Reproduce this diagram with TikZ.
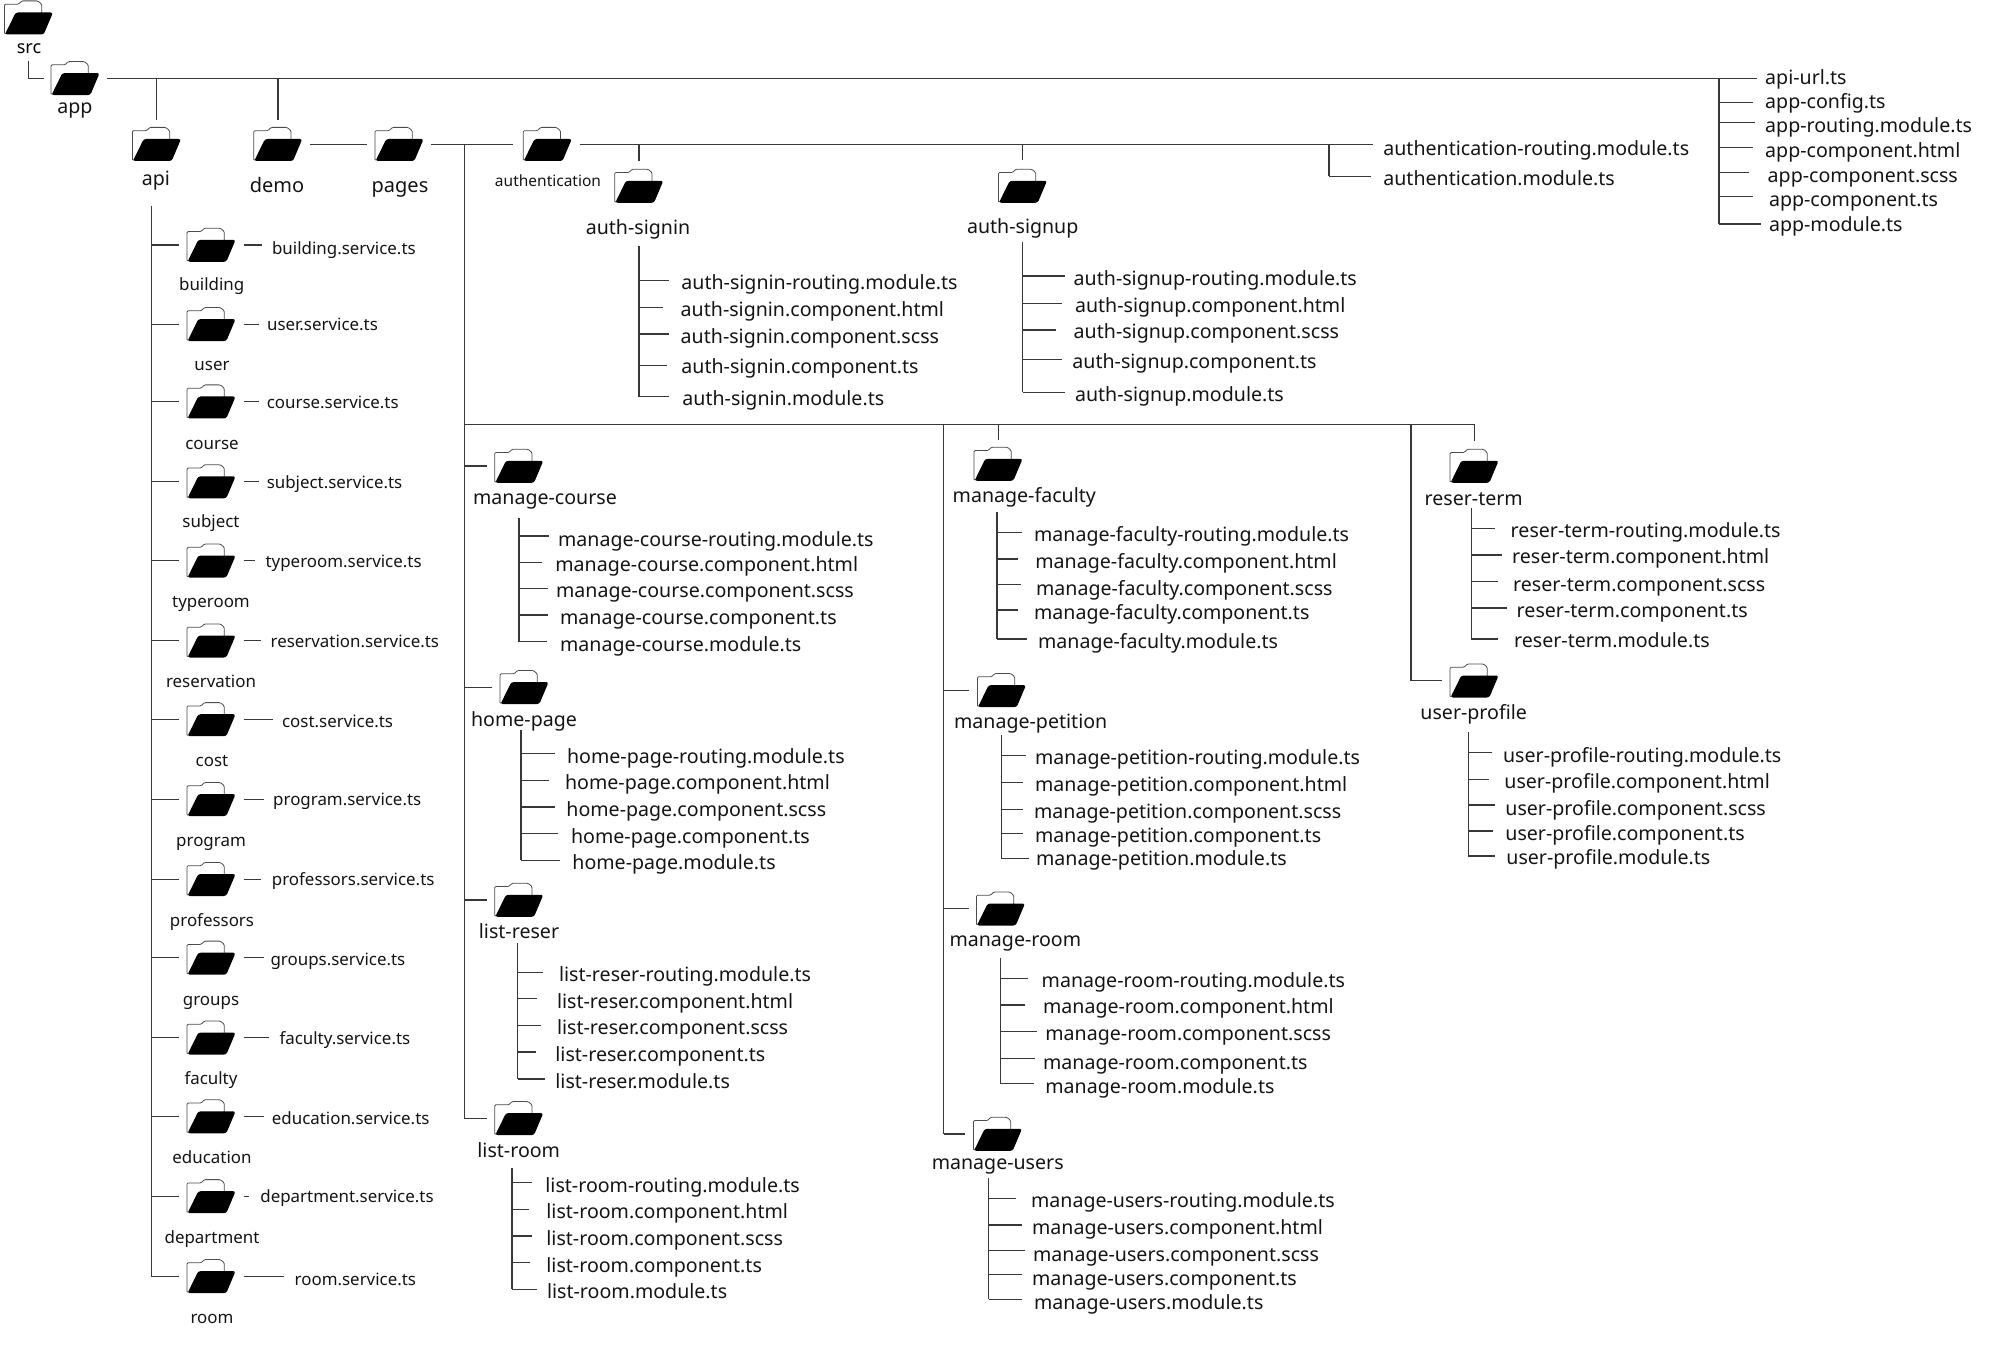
\documentclass[tikz,border=0pt]{standalone}
\usepackage{fontspec}
\setmainfont{Noto Sans}
\tikzset{
  conn/.style={draw=black!78,line width=0.58pt},
  fn/.style={font=\fontsize{9.8pt}{11pt}\selectfont,text=black!92},
  fs/.style={font=\fontsize{8.45pt}{10pt}\selectfont,text=black!92},
  fa/.style={font=\fontsize{7.75pt}{9pt}\selectfont,text=black!92},
  fb/.style={font=\fontsize{10pt}{12pt}\selectfont,text=black!92},
  filelabel/.style={anchor=mid west,inner sep=0pt,yshift=-0.6pt},
  foldlabel/.style={anchor=mid,inner sep=0pt,yshift=-0.6pt},
  foldbox/.style={rectangle,inner sep=0pt,minimum width=25pt,minimum height=18pt,
    path picture={
      \begin{scope}[shift={(path picture bounding box.center)}]
        \draw[black!70,line width=0.4pt,fill=white,rounded corners=0.6pt]
          (-24.3,16.5)--(-24.3,-13.5)--(-10,-13.5)--(-7,-16.8)--(9,-16.8)--(13,-13.5)--(13,-4)--(0,0)--cycle;
        \fill[black,rounded corners=1.2pt]
          (-13,-5.2)--(24.3,-5.2)--(15,16.8)--(-23.8,16.8)--cycle;
      \end{scope}}},
}
% folder: name, x, y, label, label x, label y, label style
\newcommand{\foldr}[7]{%
  \node[foldbox] (#1) at (#2,#3) {};
  \node[foldlabel,#7] (#1-l) at (#5,#6) {#4};}
% file: name, x, text y, text, trunk, branch y, branch end x, style
\newcommand{\filen}[8]{%
  \node[filelabel,#8] (#1) at (#2,#3) {#4};
  \draw[conn,shorten >=(#2-#7)*0.5pt] (#5 |- 0,#6) -- (#1.west |- 0,#6);}
% service file beside an api folder: name, x, text y, text, folder, branch y, end x
\newcommand{\svc}[7]{%
  \node[filelabel,fs] (#1) at (#2,#3) {#4};
  \draw[conn,shorten <=7*0.5pt,shorten >=(#2-#7)*0.5pt] (#5.east |- 0,#6) -- (#1.west |- 0,#6);}
% trunk: name, x, y start, y end
\newcommand{\trunkl}[4]{%
  \coordinate (#1) at (#2,#3);
  \coordinate (#1e) at (#2,#4);
  \draw[conn] (#1) -- (#1e);}
\newcommand{\tofold}[3]{%
  \draw[conn,shorten >=#3*0.5pt] (#1 |- #2.west) -- (#2.west);}
\begin{document}
\begin{tikzpicture}[x=0.5pt,y=-0.5pt]
\useasboundingbox (0,0) rectangle (1989,1347);
% ---- top ----
\foldr{src}{28.7}{17.7}{src}{29}{47}{font=\fontsize{9pt}{11pt}\selectfont}
\foldr{app}{75.3}{78.3}{app}{75}{107}{fn}
\coordinate (srcl) at (28.3,61.3);
\draw[conn,shorten >=6.3*0.5pt] (srcl) |- (app.west);
\foldr{api}{156.7}{144.2}{api}{156}{179}{fn}
\foldr{demo}{278}{144.2}{demo}{277}{185.5}{fb}
\foldr{pages}{399.3}{144.2}{pages}{400}{186}{fb}
\foldr{authn}{547.5}{144.2}{authentication}{548}{180.2}{fa}
\coordinate (mainr) at (1757,78.3);
\draw[conn,shorten <=6.7*0.5pt] (app.east) -- (app.east -| mainr);
\draw[conn,shorten >=5.5*0.5pt] (api.north |- mainr) -- (api.north);
\draw[conn,shorten >=5.5*0.5pt] (demo.north |- mainr) -- (demo.north);
\draw[conn,shorten <=6.7*0.5pt,shorten >=6.6*0.5pt] (demo.east) -- (pages.west);
\draw[conn,shorten <=6.7*0.5pt,shorten >=8.7*0.5pt] (pages.east) -- (authn.west);
\coordinate (authe) at (1372.7,144.2);
\draw[conn,shorten <=7.3*0.5pt] (authn.east) -- (authe);
% ---- app files ----
\trunkl{tapp}{1719}{78.3}{224}
\node[filelabel,fn] (f01) at (1764.8,78) {api-url.ts};
\filen{f02}{1764.8}{102}{app-config.ts}{tapp}{102.7}{1752.6}{fn}
\filen{f03}{1764.8}{126}{app-routing.module.ts}{tapp}{122.3}{1754.8}{fn}
\filen{f04}{1764.8}{150.5}{app-component.html}{tapp}{147.3}{1752.6}{fn}
\filen{f05}{1767.3}{176}{app-component.scss}{tapp}{172.3}{1749}{fn}
\filen{f06}{1768.6}{200}{app-component.ts}{tapp}{196.7}{1752.6}{fn}
\filen{f07}{1768.6}{224.7}{app-module.ts}{tapp}{224}{1761.3}{fn}
% ---- authentication files ----
\coordinate (tau) at (1329,144.2);
\node[filelabel,fn] (a01) at (1382.9,149) {authentication-routing.module.ts};
\filen{a02}{1382.9}{179}{authentication.module.ts}{tau}{176.3}{1370.5}{fn}
\draw[conn] (tau) -- (tau |- 0,176.3);
% ---- api ----
\trunkl{tapi}{151.3}{205.7}{1277}
\foldr{building}{211.3}{245}{building}{211.7}{284}{fs}
\svc{b01}{271.7}{247.5}{building.service.ts}{building}{245}{261.7}
\foldr{user}{211.3}{324.3}{user}{212}{364}{fs}
\svc{b02}{266.7}{324}{user.service.ts}{user}{324.3}{259.3}
\foldr{course}{211.3}{401.7}{course}{212}{442.8}{fs}
\svc{b03}{266.4}{402.2}{course.service.ts}{course}{401.7}{258.8}
\foldr{subject}{211.3}{481.5}{subject}{211}{521.4}{fs}
\svc{b04}{266.4}{482.1}{subject.service.ts}{subject}{481.5}{258.8}
\foldr{typeroom}{211.3}{560.8}{typeroom}{211}{601.4}{fs}
\svc{b05}{265.2}{560.8}{typeroom.service.ts}{typeroom}{560.8}{255}
\foldr{reservation}{211.3}{640.7}{reservation}{211}{681.3}{fs}
\svc{b06}{270.2}{640.7}{reservation.service.ts}{reservation}{640.7}{261.4}
\foldr{cost}{211.3}{719.4}{cost}{212}{760}{fs}
\svc{b07}{281.7}{720.6}{cost.service.ts}{cost}{719.4}{272.8}
\foldr{program}{211.3}{799.3}{program}{211}{839.9}{fs}
\svc{b08}{272.8}{799.3}{program.service.ts}{program}{799.3}{263.9}
\foldr{professors}{211.3}{879.2}{professors}{212}{919.8}{fs}
\svc{b09}{271.5}{879.2}{professors.service.ts}{professors}{879.2}{261.4}
\foldr{groups}{211.3}{957.9}{groups}{211}{998.5}{fs}
\svc{b10}{270.2}{959.2}{groups.service.ts}{groups}{957.9}{263.9}
\foldr{faculty}{211.3}{1037.8}{faculty}{211}{1078.4}{fs}
\svc{b11}{279.1}{1037.8}{faculty.service.ts}{faculty}{1037.8}{269}
\foldr{education}{211.3}{1116.5}{education}{212}{1157}{fs}
\svc{b12}{271.5}{1117.7}{education.service.ts}{education}{1116.5}{263.9}
\foldr{department}{211.3}{1196.4}{department}{212}{1237}{fs}
\svc{b13}{260}{1196.4}{department.service.ts}{department}{1196.4}{248.7}
\foldr{room}{211.3}{1276.3}{room}{212}{1317}{fs}
\svc{b14}{294.3}{1278.9}{room.service.ts}{room}{1276.3}{284.2}
\foreach \n in {building,user,course,subject,typeroom,reservation,cost,program,professors,groups,faculty,education,department,room}
  {\tofold{tapi}{\n}{7}}
% ---- auth-signin ----
\foldr{signin}{639}{186}{auth-signin}{638}{227.8}{fn}
\draw[conn,shorten >=6.3*0.5pt] (signin.north |- authe) -- (signin.north);
\trunkl{tsi}{639}{246.3}{396.7}
\filen{s1}{681}{283.3}{auth-signin-routing.module.ts}{tsi}{280.3}{669}{fn}
\filen{s2}{680.3}{310}{auth-signin.component.html}{tsi}{307.3}{663}{fn}
\filen{s3}{680.3}{336.7}{auth-signin.component.scss}{tsi}{334}{669}{fn}
\filen{s4}{681}{367.3}{auth-signin.component.ts}{tsi}{365.3}{667}{fn}
\filen{s5}{682}{399.3}{auth-signin.module.ts}{tsi}{396.7}{669}{fn}
% ---- auth-signup ----
\foldr{signup}{1022.7}{186}{auth-signup}{1022.7}{226.7}{fn}
\draw[conn,shorten >=8*0.5pt] (signup.north |- authe) -- (signup.north);
\trunkl{tsu}{1022.7}{242.3}{392.3}
\filen{u1}{1073.3}{279}{auth-signup-routing.module.ts}{tsu}{276}{1064.7}{fn}
\filen{u2}{1074.6}{305.8}{auth-signup.component.html}{tsu}{303.3}{1061.7}{fn}
\filen{u3}{1073.3}{332.4}{auth-signup.component.scss}{tsu}{330}{1055.7}{fn}
\filen{u4}{1072}{361.6}{auth-signup.component.ts}{tsu}{359.3}{1062.3}{fn}
\filen{u5}{1074.6}{394.6}{auth-signup.module.ts}{tsu}{392.3}{1064.7}{fn}
% ---- pages trunks ----
\coordinate (pt) at (464.3,144.2);
\coordinate (ptb) at (464.3,1118.3);
\draw[conn] (pt) -- (ptb);
\coordinate (hl) at (464.3,424.5);
\coordinate (hr) at (1474.3,424.5);
\draw[conn] (hl) -- (hr);
\trunkl{ttwo}{943.7}{424.5}{1134}
\coordinate (tthree) at (1411,424.5);
% manage-course
\foldr{mc}{519}{466}{manage-course}{545}{498.3}{fn}
\draw[conn,shorten >=6.7*0.5pt] (ptb |- mc.west) -- (mc.west);
\trunkl{tmc}{519}{518}{641.7}
\filen{mc1}{557.7}{540}{manage-course-routing.module.ts}{tmc}{536}{549.3}{fn}
\filen{mc2}{555}{565}{manage-course.component.html}{tmc}{562.3}{542.3}{fn}
\filen{mc3}{555.7}{591}{manage-course.component.scss}{tmc}{588.3}{548.3}{fn}
\filen{mc4}{559.7}{618}{manage-course.component.ts}{tmc}{615}{548.3}{fn}
\filen{mc5}{559.7}{645}{manage-course.module.ts}{tmc}{641.7}{547.3}{fn}
% home-page
\foldr{hp}{524.3}{687.3}{home-page}{524}{720}{fn}
\draw[conn,shorten >=6.6*0.5pt] (ptb |- hp.west) -- (hp.west);
\trunkl{thp}{521}{730}{860.3}
\filen{hp1}{566.7}{756.7}{home-page-routing.module.ts}{thp}{753.3}{555.3}{fn}
\filen{hp2}{564.7}{782.7}{home-page.component.html}{thp}{780.7}{549.3}{fn}
\filen{hp3}{566}{809.7}{home-page.component.scss}{thp}{807}{555.3}{fn}
\filen{hp4}{570.7}{836.7}{home-page.component.ts}{thp}{833.7}{558}{fn}
\filen{hp5}{572}{862.7}{home-page.module.ts}{thp}{860.3}{560.3}{fn}
% list-reser
\foldr{lr}{519}{900}{list-reser}{519}{931.7}{fn}
\draw[conn,shorten >=6.3*0.5pt] (ptb |- lr.west) -- (lr.west);
\trunkl{tlr}{517.7}{943.3}{1079}
\filen{lr1}{558.7}{975}{list-reser-routing.module.ts}{tlr}{972.3}{543.3}{fn}
\filen{lr2}{556.7}{1001.7}{list-reser.component.html}{tlr}{998.7}{537.3}{fn}
\filen{lr3}{556.7}{1027.7}{list-reser.component.scss}{tlr}{1025.3}{540.7}{fn}
\filen{lr4}{555}{1054.7}{list-reser.component.ts}{tlr}{1052}{536.3}{fn}
\filen{lr5}{555}{1081.7}{list-reser.module.ts}{tlr}{1079}{545}{fn}
% list-room
\foldr{lm}{519}{1118.3}{list-room}{518.7}{1150.7}{fn}
\draw[conn,shorten >=6.3*0.5pt] (ptb |- lm.west) -- (lm.west);
\trunkl{tlm}{512}{1168.3}{1289.3}
\filen{lm1}{545}{1185.7}{list-room-routing.module.ts}{tlm}{1182.7}{532.3}{fn}
\filen{lm2}{546}{1211.7}{list-room.component.html}{tlm}{1209.3}{529}{fn}
\filen{lm3}{546}{1239}{list-room.component.scss}{tlm}{1236}{532}{fn}
\filen{lm4}{546}{1265.7}{list-room.component.ts}{tlm}{1262.7}{530}{fn}
\filen{lm5}{546.7}{1291.7}{list-room.module.ts}{tlm}{1289.3}{536.7}{fn}
% manage-faculty
\foldr{mf}{998.3}{464}{manage-faculty}{1024.3}{496}{fn}
\draw[conn,shorten >=6*0.5pt] (mf.north |- hr) -- (mf.north);
\trunkl{tmf}{997}{512}{639}
\filen{mf1}{1033.7}{535}{manage-faculty-routing.module.ts}{tmf}{532.3}{1021.7}{fn}
\filen{mf2}{1035}{561.7}{manage-faculty.component.html}{tmf}{559}{1018.3}{fn}
\filen{mf3}{1035.7}{589}{manage-faculty.component.scss}{tmf}{584.3}{1021}{fn}
\filen{mf4}{1033.7}{613}{manage-faculty.component.ts}{tmf}{610}{1018.3}{fn}
\filen{mf5}{1037.7}{641.7}{manage-faculty.module.ts}{tmf}{639}{1026.7}{fn}
% manage-petition
\foldr{mp}{1001.7}{690.3}{manage-petition}{1030.7}{721.7}{fn}
\draw[conn,shorten >=7*0.5pt] (ttwo |- mp.west) -- (mp.west);
\trunkl{tmp}{1001.7}{735}{858.7}
\filen{mp1}{1034.7}{758.3}{manage-petition-routing.module.ts}{tmp}{755.7}{1026}{fn}
\filen{mp2}{1034.7}{785.3}{manage-petition.component.html}{tmp}{782.7}{1022.7}{fn}
\filen{mp3}{1033.7}{811.7}{manage-petition.component.scss}{tmp}{809.3}{1022.7}{fn}
\filen{mp4}{1034.7}{835.7}{manage-petition.component.ts}{tmp}{833.3}{1022.7}{fn}
\filen{mp5}{1035.7}{859.3}{manage-petition.module.ts}{tmp}{858.7}{1028.7}{fn}
% manage-room
\foldr{mr}{1000.7}{908.7}{manage-room}{1015.3}{940}{fn}
\draw[conn,shorten >=6.7*0.5pt] (ttwo |- mr.west) -- (mr.west);
\trunkl{tmr}{1000.7}{957.7}{1083.7}
\filen{mr1}{1041.3}{980.7}{manage-room-routing.module.ts}{tmr}{978.3}{1027.7}{fn}
\filen{mr2}{1042.7}{1007.3}{manage-room.component.html}{tmr}{1005}{1025}{fn}
\filen{mr3}{1045}{1034}{manage-room.component.scss}{tmr}{1031.3}{1036.7}{fn}
\filen{mr4}{1042.7}{1062.7}{manage-room.component.ts}{tmr}{1058.7}{1034.7}{fn}
\filen{mr5}{1045}{1086.7}{manage-room.module.ts}{tmr}{1083.7}{1034}{fn}
% manage-users
\foldr{mu}{997.7}{1134}{manage-users}{997.7}{1163.3}{fn}
\draw[conn,shorten >=7*0.5pt] (ttwo |- mu.west) -- (mu.west);
\trunkl{tmu}{988.7}{1177.7}{1299.3}
\filen{mu1}{1030.7}{1200.7}{manage-users-routing.module.ts}{tmu}{1198.7}{1015.7}{fn}
\filen{mu2}{1031.7}{1227.7}{manage-users.component.html}{tmu}{1225}{1021.7}{fn}
\filen{mu3}{1032.7}{1255}{manage-users.component.scss}{tmu}{1250.3}{1025}{fn}
\filen{mu4}{1031.7}{1278.7}{manage-users.component.ts}{tmu}{1274.3}{1022.3}{fn}
\filen{mu5}{1033.7}{1302.7}{manage-users.module.ts}{tmu}{1299.3}{1021.7}{fn}
% reser-term
\foldr{rt}{1474.3}{466}{reser-term}{1473.7}{499}{fn}
\draw[conn,shorten >=6.3*0.5pt] (hr) -- (rt.north);
\trunkl{trt}{1471.3}{507.7}{639}
\filen{rt1}{1510.3}{530.7}{reser-term-routing.module.ts}{trt}{528.3}{1495.3}{fn}
\filen{rt2}{1511.7}{557.3}{reser-term.component.html}{trt}{555}{1501.7}{fn}
\filen{rt3}{1512.7}{584.7}{reser-term.component.scss}{trt}{581.7}{1498.3}{fn}
\filen{rt4}{1516.3}{611}{reser-term.component.ts}{trt}{608}{1507.3}{fn}
\filen{rt5}{1513.7}{641.3}{reser-term.module.ts}{trt}{639}{1498.3}{fn}
% user-profile
\foldr{up}{1474.3}{680.7}{user-profile}{1473.7}{712.7}{fn}
\draw[conn,shorten >=6.6*0.5pt] (tthree) |- (up.west);
\trunkl{tup}{1468.3}{732.3}{856}
\filen{up1}{1502.7}{755.7}{user-profile-routing.module.ts}{tup}{752.7}{1492.3}{fn}
\filen{up2}{1504}{781.7}{user-profile.component.html}{tup}{779.7}{1489.3}{fn}
\filen{up3}{1505}{808.7}{user-profile.component.scss}{tup}{805}{1495.3}{fn}
\filen{up4}{1505}{834}{user-profile.component.ts}{tup}{831}{1492.7}{fn}
\filen{up5}{1506}{857.7}{user-profile.module.ts}{tup}{856}{1495.3}{fn}
\end{tikzpicture}
\end{document}
